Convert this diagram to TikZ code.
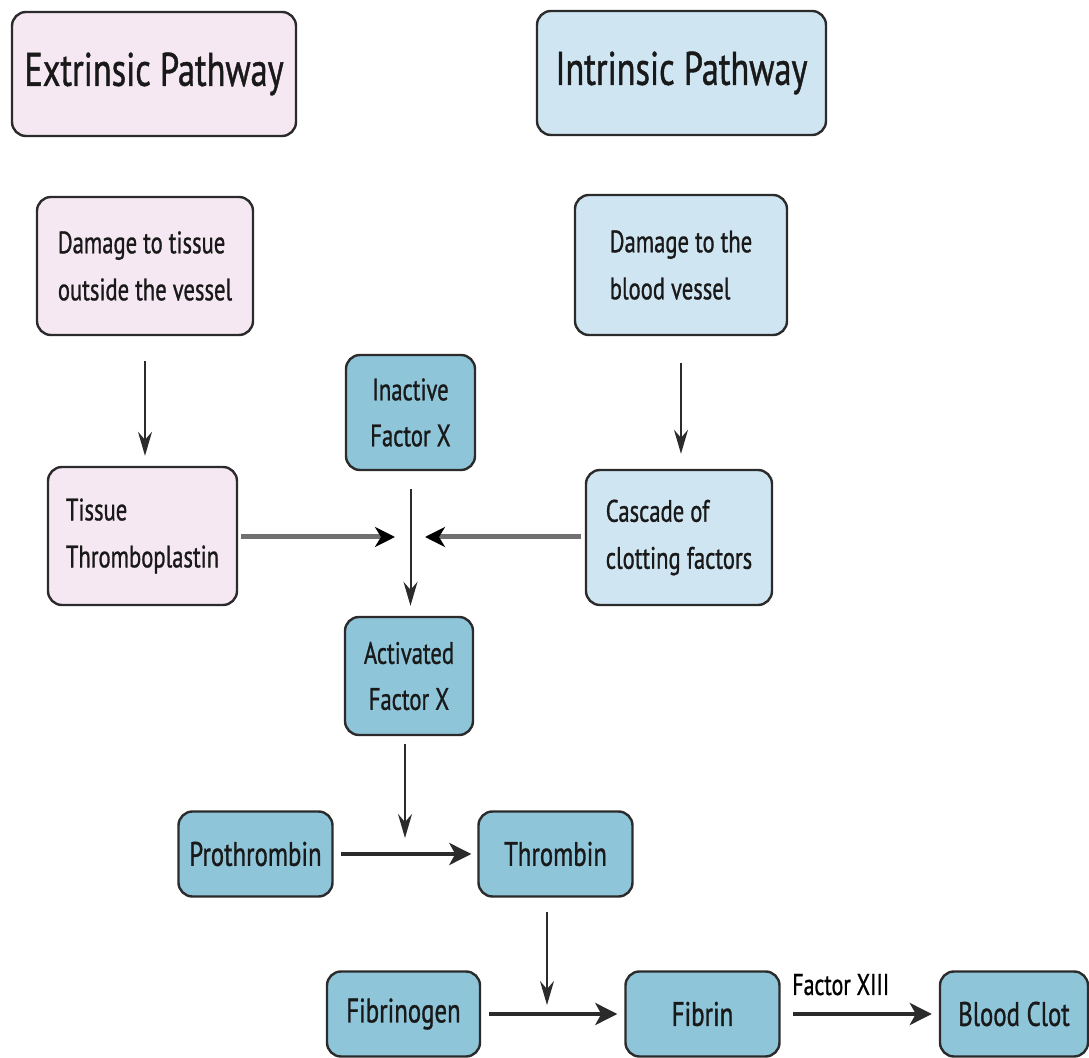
\documentclass[tikz,border=0pt]{standalone}
\usepackage{fontspec}
\setmainfont{PT Sans}[FakeStretch=0.73, FakeBold=0.9]
\usepackage{tikz}
\usetikzlibrary{arrows.meta,positioning,calc}

\definecolor{pinkbox}{HTML}{F6E8F2}
\definecolor{paleblue}{HTML}{CFE5F2}
\definecolor{deepblue}{HTML}{8EC5D9}
\definecolor{edgegray}{HTML}{2B2B2B}
\definecolor{feedgray}{HTML}{707070}

\tikzset{
    box/.style={draw=edgegray, line width=1.2pt, rounded corners=7pt, inner sep=0pt, text=black!90},
    headbox/.style={box, minimum width=142pt, minimum height=62pt, font=\fontsize{23.5}{27}\selectfont},
    textbox/.style={box, align=left, font=\fontsize{15.5}{23.5}\selectfont},
    factorbox/.style={box, fill=deepblue, align=center, font=\fontsize{15.5}{23}\selectfont},
    stagebox/.style={box, fill=deepblue, minimum width=77pt, minimum height=42.5pt, font=\fontsize{17}{20}\selectfont},
    thin/.style={draw=edgegray, line width=1pt, -{Stealth[length=12pt, width=7pt, inset=4pt]}},
    feed/.style={draw=feedgray, line width=2.5pt, -{Stealth[length=10pt, width=10pt, inset=3pt, color=black]}},
    bold/.style={draw=edgegray, line width=2pt, -{Stealth[length=11pt, width=11pt, inset=3pt]}}
}

\begin{document}
\begin{tikzpicture}[x=0.5pt, y=-0.5pt]
    \useasboundingbox (0,0) rectangle (1089,1058);

    % Headers
    \node[headbox, fill=pinkbox] (ext) at (154,74) {Extrinsic Pathway};
    \node[headbox, fill=paleblue, minimum width=144.5pt] (intr) at (681.5,73) {Intrinsic Pathway};

    % Triggers
    \node[textbox, fill=pinkbox, minimum width=108pt, minimum height=69pt] (dmgT) at (145,266) {Damage to tissue\\outside the vessel};
    \node[textbox, fill=paleblue, minimum width=106pt, minimum height=70pt] (dmgB) at (681,265) {Damage to the\\blood vessel};

    % Factor X
    \node[factorbox, minimum width=64.5pt, minimum height=57.5pt] (inact) at (410.5,412.5) {Inactive\\Factor X};
    \node[factorbox, minimum width=64pt, minimum height=59pt] (activ) at (409,676) {Activated\\Factor X};

    % Activators
    \node[textbox, fill=pinkbox, minimum width=94.5pt, minimum height=69pt] (tissue) at (142.5,536) {Tissue\\Thromboplastin};
    \node[textbox, fill=paleblue, minimum width=93pt, minimum height=67.5pt] (cascade) at (679,537.5) {Cascade of\\clotting factors};

    % Common pathway
    \node[stagebox] (proth) at (255.5,854) {Prothrombin};
    \node[stagebox] (thromb) at (555.5,854) {Thrombin};
    \node[stagebox, minimum width=76.5pt] (fibrinogen) at (403.5,1014) {Fibrinogen};
    \node[stagebox] (fibrin) at (702.5,1014) {Fibrin};
    \node[stagebox, minimum width=74pt] (clot) at (1014,1014) {Blood Clot};

    % Junctions
    \coordinate (jL) at (395,537);
    \coordinate (jR) at (425,537);
    \coordinate (jP) at (405,838);
    \coordinate (jF) at (547,1005);

    % Connectors
    \draw[thin, shorten <=12.5pt, shorten >=5pt] (dmgT.south) -- (dmgT.south |- tissue.north);
    \draw[thin, shorten <=13.5pt, shorten >=7.5pt] (dmgB.south) -- (dmgB.south |- cascade.north);
    \draw[thin, shorten <=9pt, shorten >=5pt] (inact.south) -- (inact.south |- activ.north);
    \draw[feed] (tissue.east |- jL) ++(3,0) -- (jL);
    \draw[feed] (cascade.west |- jR) ++(-4,0) -- (jR);
    \draw[thin, shorten <=4pt] (activ.south -| jP) -- (jP);
    \draw[bold, shorten <=3.5pt, shorten >=3pt] (proth) -- (thromb);
    \draw[thin, shorten <=7pt] (thromb.south -| jF) -- (jF);
    \draw[bold, shorten <=4pt, shorten >=3.5pt] (fibrinogen) -- (fibrin);
    \draw[bold, shorten <=6pt, shorten >=3.5pt] (fibrin) -- node[pos=0.38, above=5pt, font=\fontsize{15}{17}\selectfont] (f13) {Factor XIII} (clot);
\end{tikzpicture}
\end{document}
